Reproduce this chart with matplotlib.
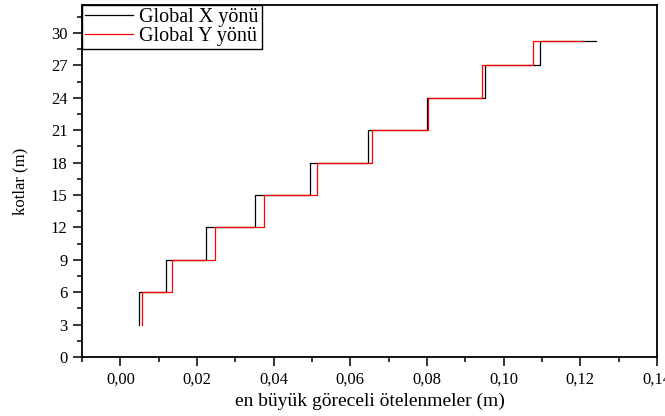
import matplotlib
matplotlib.use("Agg")
import matplotlib.pyplot as plt
from matplotlib.ticker import MultipleLocator, FuncFormatter

# Kat kotları (m) ve her kattaki en büyük göreceli ötelenmeler (m)
kotlar = [3, 6, 9, 12, 15, 18, 21, 24, 27, 29.3]
global_x = [0.0049, 0.0119, 0.0224, 0.0352, 0.0496, 0.0647, 0.0801, 0.0950, 0.1096, 0.1241]
global_y = [0.0057, 0.0135, 0.0246, 0.0374, 0.0513, 0.0656, 0.0802, 0.0943, 0.1076, 0.1205]

x_ticks = [0.00, 0.02, 0.04, 0.06, 0.08, 0.10, 0.12, 0.14]
y_ticks = [0, 3, 6, 9, 12, 15, 18, 21, 24, 27, 30]

plt.rcParams['font.family'] = ['Liberation Serif', 'DejaVu Serif']

fig = plt.figure(figsize=(6.65, 4.16), dpi=100)
ax = fig.add_axes([82 / 665, 1 - 357 / 416, (657 - 82) / 665, (357 - 5) / 416])

ax.plot(global_x, kotlar, drawstyle='steps-pre', color='black', lw=0.9,
        label='Global X yönü')
ax.plot(global_y, kotlar, drawstyle='steps-pre', color='#ff0000', lw=0.9,
        label='Global Y yönü')

ax.set_xlim(-0.01, 0.14)
ax.set_ylim(0, 32.6)
ax.set_xticks(x_ticks)
ax.set_yticks(y_ticks)
ax.xaxis.set_minor_locator(MultipleLocator(0.01))
ax.yaxis.set_minor_locator(MultipleLocator(1.5))
ax.xaxis.set_major_formatter(FuncFormatter(lambda v, p: f"{v:.2f}".replace('.', ',')))

ax.tick_params(which='both', direction='out', top=False, right=False,
               width=1.1, labelsize=12, pad=4)
ax.tick_params(which='major', length=6.5)
ax.tick_params(which='minor', length=3.5)
for s in ax.spines.values():
    s.set_linewidth(1.3)

ax.set_xlabel('en büyük göreceli ötelenmeler (m)', fontsize=14, labelpad=4)
ax.set_ylabel('kotlar (m)', fontsize=12, labelpad=16)

leg = ax.legend(loc='upper left', bbox_to_anchor=(0, 1), borderaxespad=0,
                fancybox=False, edgecolor='black', framealpha=1,
                fontsize=14.5, handlelength=2.4, handletextpad=0.3,
                labelspacing=0.0, borderpad=0.15)
leg.get_frame().set_linewidth(1.0)

fig.savefig('out.png', dpi=100)
